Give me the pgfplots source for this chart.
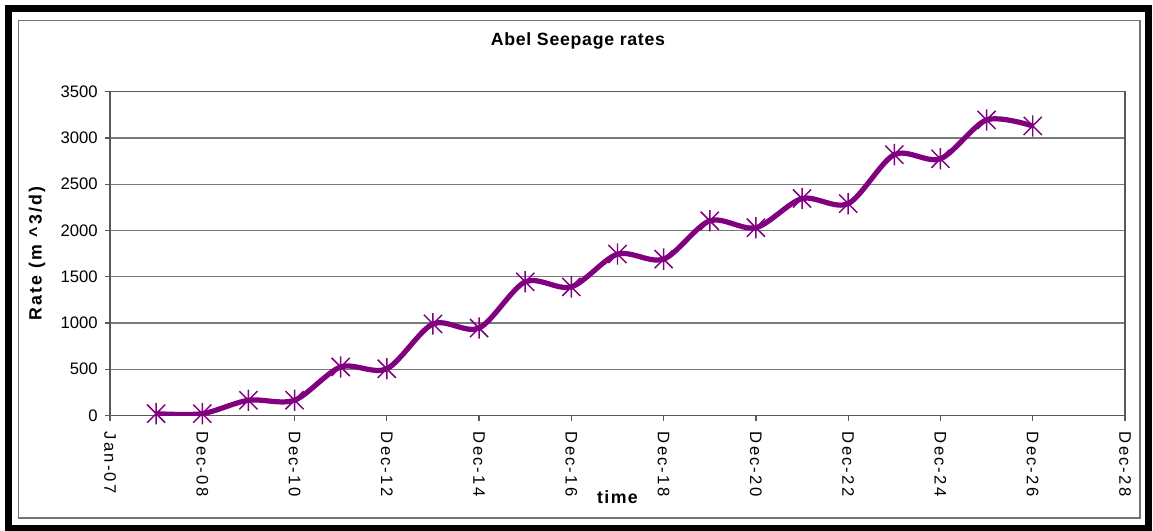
\documentclass[border=0pt]{standalone}
\usepackage{fontspec}
\setmainfont{Liberation Sans}
\usepackage{pgfplots}
\pgfplotsset{compat=1.18}
\definecolor{seep}{HTML}{800080}
\definecolor{gridgray}{HTML}{7A7A7A}

% Excel-style star marker: vertical bar plus an X
\pgfdeclareplotmark{xstar}{%
  \pgfpathmoveto{\pgfqpoint{0pt}{-\pgfplotmarksize}}%
  \pgfpathlineto{\pgfqpoint{0pt}{\pgfplotmarksize}}%
  \pgfpathmoveto{\pgfqpoint{-0.85\pgfplotmarksize}{-0.85\pgfplotmarksize}}%
  \pgfpathlineto{\pgfqpoint{0.85\pgfplotmarksize}{0.85\pgfplotmarksize}}%
  \pgfpathmoveto{\pgfqpoint{-0.85\pgfplotmarksize}{0.85\pgfplotmarksize}}%
  \pgfpathlineto{\pgfqpoint{0.85\pgfplotmarksize}{-0.85\pgfplotmarksize}}%
  \pgfusepathqstroke}

\begin{document}
\begin{tikzpicture}
  \useasboundingbox (0,0) rectangle (864.75pt,-398.25pt);
  % chart frame
  \draw[line width=5.25pt] (6.375pt,-6.375pt) rectangle (861pt,-396pt);
  \draw[line width=1.1pt, black!55] (13.9pt,-15.4pt) rectangle (855pt,-388.5pt);

  \begin{axis}[
      at={(82.5pt,-311.625pt)}, anchor=south west,
      scale only axis, width=761.25pt, height=242.85pt,
      xmin=0, xmax=22, ymin=0, ymax=3500,
      xtick={0,2,...,22},
      xticklabels={Jan-07,Dec-08,Dec-10,Dec-12,Dec-14,Dec-16,Dec-18,Dec-20,Dec-22,Dec-24,Dec-26,Dec-28},
      ytick={0,500,...,3500},
      ymajorgrids,
      major grid style={gridgray, line width=0.9pt},
      axis line style={black!65, line width=0.9pt},
      tick style={black!65, line width=0.9pt},
      tick align=outside, major tick length=3.75pt,
      xtick pos=bottom, ytick pos=left,
      /pgf/number format/1000 sep={},
      /pgf/number format/assume math mode=true,
      tick label style={font=\fontsize{12.5}{15}\selectfont},
      y tick label style={xshift=-2pt},
      % after rotate=-90, xshift moves the label down
      x tick label style={rotate=-90, anchor=west, xshift=5pt,
        font=\fontsize{12.5}{15}\selectfont\addfontfeatures{LetterSpace=13}},
      title={Abel Seepage rates},
      title style={at={(axis description cs:0.461,1.1306)}, anchor=center,
        font=\fontsize{13.3}{16}\selectfont\bfseries\addfontfeatures{LetterSpace=4}},
      xlabel={time},
      xlabel style={at={(axis description cs:0.5,-0.2517)}, anchor=center,
        font=\fontsize{13.3}{16}\selectfont\bfseries\addfontfeatures{LetterSpace=8}},
      ylabel={Rate (m \textasciicircum3/d)},
      ylabel style={at={(axis description cs:-0.0719,0.5)}, anchor=center,
        font=\fontsize{13.3}{16}\selectfont\bfseries\addfontfeatures{LetterSpace=12}},
    ]
    \addplot[seep, line width=3.9pt, smooth, tension=0.5,
        mark=xstar, mark size=8pt, mark options={solid, line width=1.1pt}]
      coordinates {
        (1, 20) (2, 20) (3, 165) (4, 165) (5, 525)
        (6, 505) (7, 990) (8, 945) (9, 1445) (10, 1390)
        (11, 1745) (12, 1690) (13, 2105) (14, 2030) (15, 2345)
        (16, 2290) (17, 2820) (18, 2775) (19, 3195) (20, 3130)
      };
  \end{axis}
\end{tikzpicture}
\end{document}
